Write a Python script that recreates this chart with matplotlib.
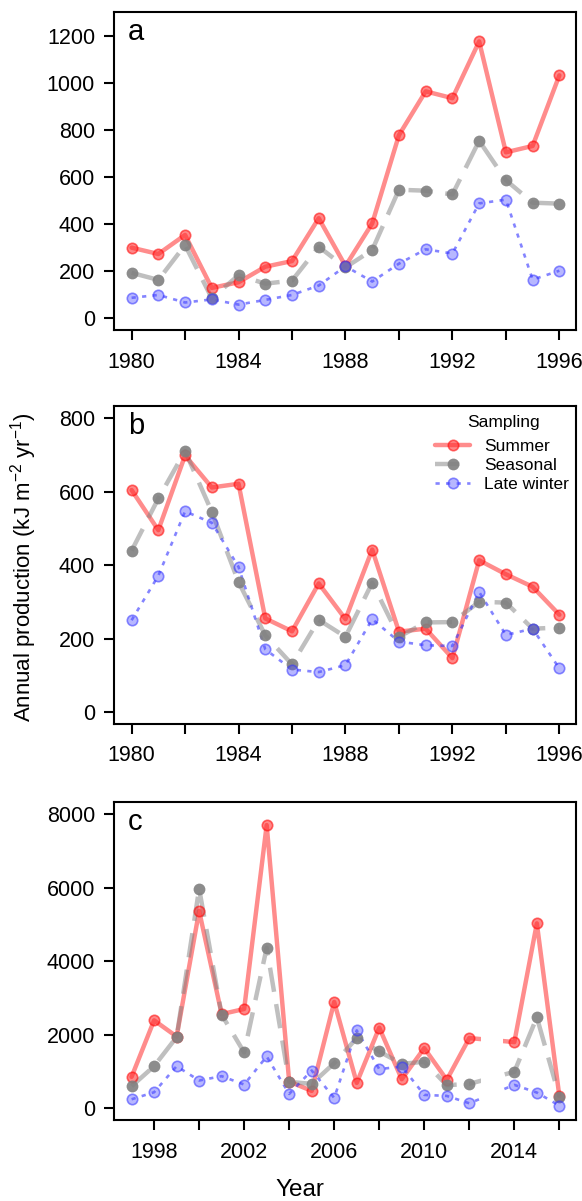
import matplotlib
matplotlib.use('Agg')
import matplotlib.pyplot as plt
from matplotlib.lines import Line2D

plt.rcParams['font.family'] = ['Liberation Sans', 'DejaVu Sans']
plt.rcParams['mathtext.fontset'] = 'custom'
plt.rcParams['mathtext.rm'] = 'Liberation Sans'
plt.rcParams['mathtext.it'] = 'Liberation Sans:italic'

# DATA
years_ab = list(range(1980, 1997))
years_c = list(range(1997, 2013)) + [2014, 2015, 2016]

summer_a = [300, 273, 354, 129, 153, 219, 243, 425, 222, 403, 778, 964, 935, 1176, 705, 732, 1032]
seasonal_a = [193, 163, 311, 85, 183, 147, 160, 304, 216, 290, 546, 542, 526, 754, 587, 491, 487]
winter_a = [87, 99, 67, 80, 58, 78, 99, 139, 221, 156, 232, 293, 275, 488, 504, 164, 202]

summer_b = [604, 495, 698, 611, 621, 255, 220, 350, 253, 442, 219, 227, 147, 413, 375, 341, 265]
seasonal_b = [439, 581, 710, 545, 354, 209, 130, 251, 205, 352, 205, 244, 245, 300, 298, 227, 230]
winter_b = [250, 371, 546, 515, 395, 171, 116, 109, 128, 253, 192, 182, 180, 327, 210, 227, 119]

summer_c = [855, 2391, 1950, 5364, 2560, 2700, 7700, 727, 473, 2891, 691, 2191, 791, 1636, 773, 1909, 1800, 5027, 330]
seasonal_c = [600, 1145, 1936, 5973, 2545, 1518, 4364, 718, 664, 1227, 1909, 1545, 1209, 1264, 627, 664, 991, 2473, 318]
winter_c = [245, 436, 1145, 755, 873, 645, 1409, 391, 1027, 282, 2118, 1064, 1136, 364, 336, 136, 636, 427, 73]

labels = ['Summer', 'Seasonal', 'Late winter']

# styles (line kwargs, marker kwargs)
red_line = dict(color=(1, 0, 0, 0.45), lw=3.2, solid_capstyle='round')
red_pt = dict(marker='o', ms=7.5, mfc=(1, 0.15, 0.15, 0.55), mec=(1, 0, 0, 0.55), mew=1.2)
grey_line = dict(color=(0.5, 0.5, 0.5, 0.5), lw=3.2, ls=(0, (5.5, 2.8)), dash_capstyle='butt')
grey_pt = dict(marker='o', ms=8.5, mfc=(0.5, 0.5, 0.5, 0.9), mec='none')
blue_line = dict(color=(0.2, 0.2, 1, 0.6), lw=1.9, ls=(0, (1.6, 2.4)), dash_capstyle='butt')
blue_pt = dict(marker='o', ms=7.5, mfc=(0.3, 0.3, 1, 0.4), mec=(0.2, 0.2, 1, 0.55), mew=1.2)


def draw_series(ax, x, s, g, w):
    ax.plot(x, s, zorder=2, **red_line)
    ax.plot(x, s, ls='none', zorder=3, **red_pt)
    ax.plot(x, g, zorder=2, **grey_line)
    ax.plot(x, g, ls='none', zorder=3, **grey_pt)
    ax.plot(x, w, zorder=2, **blue_line)
    ax.plot(x, w, ls='none', zorder=3, **blue_pt)


def style_axes(ax, letter, xticks, xlabels, yticks):
    ax.set_xticks(xticks)
    ax.set_xticklabels(xlabels)
    ax.set_yticks(yticks)
    ax.tick_params(direction='out', length=7.5, width=1.5, labelsize=15.5, pad=6.5)
    ax.tick_params(axis='x', pad=8)
    for sp in ax.spines.values():
        sp.set_linewidth(1.5)
    ax.text(0.029, 0.912, letter, transform=ax.transAxes, fontsize=21,
            ha='left', va='baseline')


fig = plt.figure(figsize=(5.82, 12.01), dpi=100)
left, width, height = 0.1967, 0.7938, 0.2646

# panel a
ax1 = fig.add_axes([left, 0.7252, width, height])
draw_series(ax1, years_ab, summer_a, seasonal_a, winter_a)
ax1.set_xlim(1979.36, 1996.64)
ax1.set_ylim(-50, 1300)
ticks_ab = list(range(1980, 1997, 2))
style_axes(ax1, 'a', ticks_ab, [str(t) if t % 4 == 0 else '' for t in ticks_ab],
           range(0, 1201, 200))

# panel b
ax2 = fig.add_axes([left, 0.3972, width, height])
draw_series(ax2, years_ab, summer_b, seasonal_b, winter_b)
ax2.set_xlim(1979.36, 1996.64)
ax2.set_ylim(-32, 832)
style_axes(ax2, 'b', ticks_ab, [str(t) if t % 4 == 0 else '' for t in ticks_ab],
           range(0, 801, 200))

h = [Line2D([], [], **red_line, **red_pt),
     Line2D([], [], **grey_line, **grey_pt),
     Line2D([], [], **blue_line, **blue_pt)]
ax2.legend(h, labels, loc='upper left', bbox_to_anchor=(321 / 462, 1 - 33 / 317.3),
           frameon=False, fontsize=12.5, handlelength=2.0, handletextpad=0.8,
           labelspacing=0.2, borderpad=0, borderaxespad=0)
ax2.text(504 / 462 - 114.5 / 462, 1 - 16.5 / 317.3, 'Sampling', transform=ax2.transAxes,
         ha='center', va='center', fontsize=12.5)

# panel c
ax3 = fig.add_axes([left, 0.0674, width, height])
draw_series(ax3, years_c, summer_c, seasonal_c, winter_c)
ax3.axvspan(2012.5, 2013.5, color='white', zorder=2.2, lw=0)
ax3.set_xlim(1996.24, 2016.76)
ax3.set_ylim(-320, 8320)
ticks_c = list(range(1998, 2017, 2))
style_axes(ax3, 'c', ticks_c, [str(t) if (t - 1998) % 4 == 0 else '' for t in ticks_c],
           range(0, 8001, 2000))

fig.text(24 / 582, 1 - 567 / 1201, 'Annual production (kJ m$^{-2}$ yr$^{-1}$)',
         rotation=90, ha='center', va='center', fontsize=16)
fig.text(300 / 582, 1 - 1190 / 1201, 'Year', ha='center', va='center', fontsize=17.5)

fig.savefig('out.png', dpi=100)
